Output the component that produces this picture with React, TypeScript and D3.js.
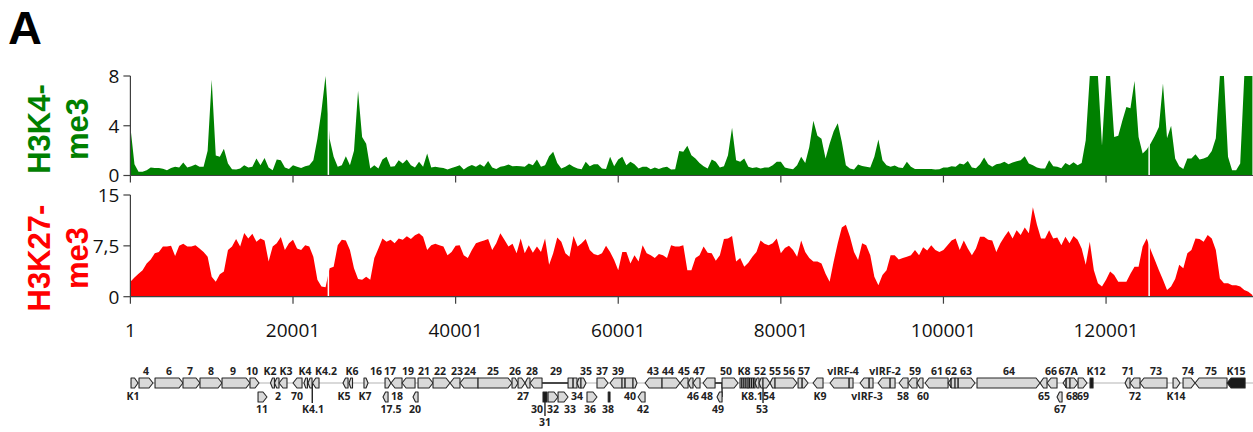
import React from 'react';
import * as d3 from 'd3';

// ChIP coverage along the KSHV genome, 500 bp bins starting at position 1
const BIN_SIZE = 500;
const GENOME_END = 138000;

const h3k4me3 = [
  3.9, 0.9, 0.3, 0.3, 0.43, 0.64, 0.6, 0.6, 0.55, 0.43,
  0.6, 0.7, 0.64, 1.04, 0.64, 0.75, 0.88, 0.7, 0.7, 2.0,
  7.7, 1.6, 1.5, 2.16, 0.96, 0.5, 0.48, 0.56, 0.83, 0.64,
  0.7, 1.36, 0.83, 1.4, 0.64, 0.43, 1.28, 1.23, 0.64, 0.53,
  0.83, 0.7, 0.6, 0.75, 0.83, 1.23, 2.96, 5.2, 8.5, 2.96,
  1.5, 0.7, 0.83, 1.55, 0.83, 2.0, 6.8, 3.1, 2.56, 0.56,
  0.83, 0.56, 1.28, 1.5, 0.7, 0.75, 1.23, 0.96, 1.28,
  0.83, 0.64, 1.1, 0.7, 1.76, 0.64, 0.7, 0.64, 0.61, 0.48,
  0.61, 0.7, 0.83, 0.48, 0.7, 0.85, 0.7, 0.9, 0.7, 1.17,
  0.64, 0.53, 0.7, 0.77, 0.88, 0.75, 0.77, 0.75, 0.7, 0.96,
  0.83, 1.28, 0.7, 0.83, 1.55, 1.9, 1.0, 0.56, 0.7, 0.9,
  0.7, 0.56, 0.5, 1.1, 0.75, 0.9, 0.9, 0.56, 0.53, 1.5,
  0.75, 1.28, 1.5, 0.83, 1.1, 0.9, 0.56, 0.7, 0.7, 0.5,
  0.64, 0.53, 0.64, 0.7, 0.48, 0.5, 1.97, 1.9, 2.4,
  1.63, 1.36, 1.0, 0.75, 0.56, 1.28, 1.1, 0.64, 0.75, 1.63,
  3.84, 1.23, 1.1, 1.36, 0.7, 0.61, 0.67, 0.56, 0.64, 0.64,
  0.83, 1.1, 1.1, 0.64, 0.56, 0.5, 0.83, 1.5, 1.0, 2.3,
  4.4, 3.2, 2.96, 1.36, 2.56, 3.55, 4.2, 2.7, 0.83, 0.56,
  0.48, 0.88, 0.77, 0.7, 0.64, 1.5, 2.9, 1.23, 0.83, 0.7,
  0.8, 0.64, 0.61, 1.1, 0.7, 0.53, 0.53, 0.53, 0.53, 0.53,
  0.48, 0.5, 0.64, 0.64, 0.75, 0.7, 0.96, 0.88, 1.17,
  0.64, 0.59, 0.9, 1.44, 0.9, 0.7, 0.9, 0.96, 1.1, 0.9,
  1.04, 1.15, 1.23, 1.55, 0.96, 0.83, 0.64, 0.56, 0.56, 1.23,
  0.75, 0.7, 0.59, 1.0, 0.83, 1.07, 0.83, 1.0, 2.83, 10,
  10, 8.2, 2.4, 10, 8.2, 3.1, 3.2, 4.4, 5.5, 5.4,
  7.6, 3.1, 1.76, 2.1, 2.6, 3.2, 3.9, 7.4, 3.0, 4.0,
  1.36, 0.75, 0.53, 1.36, 1.36, 1.7, 1.28, 1.36, 1.5, 1.97,
  3.0, 9, 14, 1.5, 0.43, 0.43, 0.96, 10, 10, 10,
];

const h3k27me3 = [
  2.2, 2.85, 3.4, 3.9, 4.9, 5.5, 6.4, 6.6, 7.4, 7.4,
  7.5, 6.0, 7.5, 7.8, 7.4, 7.4, 7.6, 7.1, 6.6, 5.9,
  2.95, 2.2, 3.3, 3.7, 6.9, 7.4, 8.5, 7.4, 9.4, 8.6,
  9.3, 8.1, 8.6, 8.3, 5.2, 7.4, 7.9, 8.8, 6.9, 7.9,
  8.4, 7.1, 6.9, 7.6, 7.4, 5.9, 2.5, 1.5, 1.4, 4.2,
  4.4, 7.6, 8.4, 8.3, 6.9, 4.2, 2.6, 2.5, 2.95, 2.5,
  5.7, 7.1, 8.6, 8.1, 8.4, 7.9, 8.6, 8.4, 8.9,
  8.5, 9.05, 9.35, 8.85, 6.9, 7.6, 7.8, 7.6, 7.4, 6.1,
  6.6, 7.5, 7.6, 6.1, 5.7, 6.9, 7.9, 8.1, 8.3, 8.5,
  6.9, 7.9, 9.35, 8.4, 7.4, 7.8, 6.4, 8.6, 6.4, 7.6,
  6.5, 7.4, 6.6, 8.6, 4.7, 6.4, 8.75, 8.1, 6.4, 5.9,
  8.95, 7.4, 7.9, 8.5, 6.9, 6.3, 6.1, 6.4, 7.5, 6.6,
  5.4, 3.9, 6.6, 6.6, 4.9, 6.1, 5.2, 7.6, 6.4, 6.1,
  5.7, 6.3, 6.1, 5.7, 7.6, 7.4, 7.4, 7.6, 3.9,
  3.9, 5.7, 6.1, 7.4, 6.5, 6.4, 5.3, 6.1, 8.5, 8.6,
  8.95, 5.2, 5.7, 4.4, 5.0, 5.9, 6.6, 8.3, 7.8, 7.6,
  7.9, 8.6, 6.4, 7.2, 7.5, 6.9, 5.9, 8.3, 6.6, 5.7,
  5.2, 5.2, 4.9, 3.4, 2.2, 5.2, 7.9, 10.2, 10.6, 8.85,
  6.6, 5.4, 7.9, 7.6, 6.1, 2.95, 1.7, 3.2, 3.9, 6.1,
  6.1, 5.5, 5.7, 5.9, 6.1, 6.9, 6.1, 7.3, 6.8, 7.6,
  6.9, 6.6, 6.9, 7.6, 8.3, 8.6, 6.9, 8.3, 7.1,
  6.1, 7.1, 8.85, 8.85, 8.4, 8.3, 6.6, 7.9, 8.85, 9.7,
  8.6, 9.8, 9.1, 10.2, 9.35, 13.2, 10.6, 8.6, 8.6, 9.8,
  8.6, 8.75, 7.6, 8.85, 7.9, 8.95, 8.4, 7.1, 4.7, 8.1,
  3.9, 2.0, 1.5, 2.5, 3.7, 3.2, 2.2, 2.2, 2.2, 3.4,
  4.4, 4.4, 7.4, 8.6, 6.9, 5.4, 3.9, 2.5, 1.0, 1.5,
  2.6, 4.7, 4.2, 6.4, 6.9, 8.6, 8.5, 8.1, 9.1, 8.6,
  6.9, 2.7, 2.0, 2.0, 1.7, 1.7, 1.5, 1.0, 0.74, 0.25,
];

// positions with no coverage (thin white gaps through both tracks)
const gapPositions = [24350, 125300];

const xTicks = [1, 20001, 40001, 60001, 80001, 100001, 120001];
const k4Ticks = [0, 4, 8];
const k4TickLabels = ['0', '4', '8'];
const k27Ticks = [0, 7.5, 15];
const k27TickLabels = ['0', '7,5', '15'];

// ORFs: [name, start, end, strand (1 fwd, -1 rev, 0 box), track, kind]
type Gene = [string, number, number, number, number, string?];
const genes: Gene[] = [
  ['K1', 80, 940, 1, 0], ['4', 1060, 2780, 1, 0], ['6', 3030, 6470, 1, 0],
  ['7', 6470, 8560, 1, 0], ['8', 8560, 11270, 1, 0], ['9', 11270, 14710, 1, 0],
  ['10', 14710, 15820, 1, 0], ['11', 15700, 16800, 1, 1],
  ['K2', 17230, 17720, -1, 0], ['2', 17720, 18280, -1, 0], ['K3', 18280, 19260, -1, 0],
  ['70', 20000, 21110, -1, 0], ['K4', 21350, 21780, -1, 0], ['K4.1', 21850, 22340, -1, 0],
  ['K4.2', 22400, 23200, -1, 0], ['K5', 26150, 26770, -1, 0], ['K6', 26890, 27320, -1, 0],
  ['K7', 28730, 29230, 1, 0], ['16', 31320, 32050, 1, 0], ['17', 32050, 33410, -1, 0],
  ['17.5', 31070, 31690, -1, 1], ['19', 33410, 35010, -1, 0], ['20', 34760, 35380, -1, 1],
  ['21', 35380, 37220, 1, 0], ['22', 37220, 39310, 1, 0], ['23', 39310, 40540, -1, 0],
  ['24', 40540, 42760, -1, 0], ['25', 42760, 46940, 1, 0], ['26', 46940, 47680, 1, 0],
  ['27', 47680, 48540, 1, 0], ['28', 48540, 49150, -1, 0], ['29a', 49150, 50630, -1, 0],
  ['29b', 53830, 54930, 0, 0], ['30', 50750, 51240, 0, 1, 'dark'],
  ['32', 51370, 52600, 1, 1], ['33', 52600, 53830, 1, 1], ['34', 54930, 55420, -1, 0],
  ['35', 55420, 56040, 1, 0], ['36', 56160, 57390, 1, 1], ['37', 57390, 58750, 1, 0],
  ['38', 58770, 58990, 0, 1, 'dark'], ['39', 58990, 60470, -1, 0], ['40', 60470, 61820, 0, 0],
  ['41', 61820, 62310, 1, 0], ['42', 62440, 63300, -1, 1], ['43', 63300, 65390, -1, 0],
  ['44', 65390, 67600, 1, 0], ['45', 67600, 68590, -1, 0], ['46', 68590, 69200, -1, 0],
  ['47', 69200, 70060, -1, 0], ['48', 70430, 71910, -1, 0], ['49', 72150, 72770, -1, 1],
  ['50', 72770, 74740, 1, 0], ['K8', 74980, 75970, 0, 0], ['K8.1', 75970, 76830, 0, 0],
  ['52', 76830, 77320, -1, 0], ['53', 77320, 77810, -1, 0], ['54', 77810, 78670, 1, 0],
  ['55', 78670, 79290, -1, 0], ['56', 79290, 81990, 1, 0], ['57', 82120, 83350, 1, 0],
  ['K9', 83960, 85190, -1, 0], ['vIRF-4', 86050, 88880, -1, 0], ['vIRF-3', 89740, 91340, -1, 0],
  ['vIRF-2', 91960, 94050, -1, 0], ['58', 94540, 95650, -1, 0], ['59', 95650, 96750, -1, 0],
  ['60', 96750, 97490, -1, 0], ['61', 97740, 100570, -1, 0], ['62', 100570, 101430, -1, 0],
  ['63', 101430, 103890, 1, 0], ['64', 104130, 111880, 1, 0], ['65', 111880, 112740, -1, 0],
  ['66', 112740, 113970, -1, 0], ['67', 113970, 114590, -1, 1], ['67A', 114710, 115570, -1, 0],
  ['68', 115570, 116560, 1, 0], ['69', 116560, 117660, 1, 0], ['K12', 118030, 118400, 0, 0, 'dark'],
  ['71', 122340, 122950, -1, 0], ['72', 122950, 124180, -1, 0], ['73', 124180, 127500, -1, 0],
  ['K14', 128240, 129100, 1, 0], ['74', 129470, 130950, 1, 0], ['75', 130950, 134880, -1, 0],
  ['K15', 134880, 137100, -1, 0, 'dark'],
];

// exon borders / internal marks drawn inside the ORF boxes
const geneMarks = [54440, 60830, 75200, 75450, 75700, 76150, 76400, 76650, 82610, 88390,
  90850, 93430, 100930, 101800, 115080];
// spliced / linking lines on the backbone
const introns = [[50630, 53830], [71910, 72770]];
// vertical leader lines: [position, from level, to level]
const connectors: [number, string, string][] = [
  [22370, 'g0', 'b2'], [77810, 'g0', 'b2'], [50990, 'g1', 'b3'], [72770, 'g0', 'g1'],
];

// gene labels: [text, position, row]
const geneLabels: [string, number, string][] = [
  ['4', 1920, 'a'], ['6', 4750, 'a'], ['7', 7330, 'a'], ['8', 9910, 'a'], ['9', 12620, 'a'],
  ['10', 14960, 'a'], ['K2', 17170, 'a'], ['K3', 19140, 'a'], ['K4', 21480, 'a'],
  ['K4.2', 24060, 'a'], ['K6', 27260, 'a'], ['16', 30210, 'a'], ['17', 31930, 'a'],
  ['19', 34150, 'a'], ['21', 36110, 'a'], ['22', 38080, 'a'], ['23', 40170, 'a'],
  ['24', 41770, 'a'], ['25', 44600, 'a'], ['26', 47310, 'a'], ['28', 49400, 'a'],
  ['29', 52350, 'a'], ['35', 56040, 'a'], ['37', 58010, 'a'], ['39', 59980, 'a'],
  ['43', 64280, 'a'], ['44', 66130, 'a'], ['45', 68090, 'a'], ['47', 69940, 'a'],
  ['50', 73260, 'a'], ['K8', 75470, 'a'], ['52', 77440, 'a'], ['55', 79290, 'a'],
  ['56', 81010, 'a'], ['57', 82850, 'a'], ['vIRF-4', 87650, 'a'], ['vIRF-2', 92820, 'a'],
  ['59', 96510, 'a'], ['61', 99210, 'a'], ['62', 100930, 'a'], ['63', 102780, 'a'],
  ['64', 108070, 'a'], ['66', 113230, 'a'], ['67A', 115330, 'a'], ['K12', 118770, 'a'],
  ['71', 122710, 'a'], ['73', 126150, 'a'], ['74', 130090, 'a'], ['75', 132910, 'a'],
  ['K15', 135990, 'a'],
  ['K1', 320, 'b1'], ['2', 18160, 'b1'], ['70', 20490, 'b1'], ['K5', 26270, 'b1'],
  ['K7', 28860, 'b1'], ['18', 32790, 'b1'], ['27', 48290, 'b1'], ['34', 54930, 'b1'],
  ['40', 61450, 'b1'], ['46', 69200, 'b1'], ['48', 70920, 'b1'], ['K8.1', 76460, 'b1'],
  ['54', 78550, 'b1'], ['K9', 84820, 'b1'], ['vIRF-3', 90600, 'b1'], ['58', 95030, 'b1'],
  ['60', 97490, 'b1'], ['65', 112370, 'b1'], ['68', 115820, 'b1'], ['69', 117170, 'b1'],
  ['72', 123570, 'b1'], ['K14', 128610, 'b1'],
  ['11', 16190, 'b2'], ['K4.1', 22460, 'b2'], ['17.5', 32050, 'b2'], ['20', 35010, 'b2'],
  ['30', 50010, 'b2'], ['32', 51980, 'b2'], ['33', 54070, 'b2'], ['36', 56530, 'b2'],
  ['38', 58750, 'b2'], ['42', 63050, 'b2'], ['49', 72280, 'b2'], ['53', 77690, 'b2'],
  ['67', 114340, 'b2'],
  ['31', 51000, 'b3'],
];

const W = 1253;
const H = 432;
const GREEN = '#008000';
const RED = '#ff0000';
const AXIS = '#404040';
const TICK_FONT = '"Open Sans", "DejaVu Sans", sans-serif';
const BOLD_FONT = '"Liberation Sans", Arial, sans-serif';

const levelY: Record<string, number> = { g0: 383, g1: 397, a: 371, b1: 396, b2: 409, b3: 422 };

function genePath(x0: number, x1: number, strand: number, yc: number, h: number) {
  const tip = Math.min(4, (x1 - x0) * 0.5);
  const t = yc - h / 2, b = yc + h / 2;
  if (strand === 1) return `M${x0},${t}H${x1 - tip}L${x1},${yc}L${x1 - tip},${b}H${x0}Z`;
  if (strand === -1) return `M${x1},${t}H${x0 + tip}L${x0},${yc}L${x0 + tip},${b}H${x1}Z`;
  return `M${x0},${t}H${x1}V${b}H${x0}Z`;
}

export default function App() {
  const x = d3.scaleLinear().domain([1, GENOME_END]).range([130.4, 1252.4]);
  const yTop = d3.scaleLinear().domain([0, 8]).range([175.5, 76]).clamp(true);
  const yBot = d3.scaleLinear().domain([0, 15]).range([296.7, 195]).clamp(true);
  const pos = (i: number) => 1 + i * BIN_SIZE;

  const areaTop = d3.area<number>().x((_, i) => x(pos(i))).y0(yTop(0)).y1(d => yTop(d));
  const areaBot = d3.area<number>().x((_, i) => x(pos(i))).y0(yBot(0)).y1(d => yBot(d));

  const x0 = x(1);
  const xEnd = W;

  const renderXAxis = (y0: number) => (
    <g>
      <line x1={x0} x2={xEnd} y1={y0} y2={y0} stroke={AXIS} strokeWidth={1.2} />
      {xTicks.map(t => (
        <line key={t} x1={x(t)} x2={x(t)} y1={y0} y2={y0 + 7} stroke={AXIS} strokeWidth={1.2} />
      ))}
    </g>
  );

  const renderYAxis = (scale: d3.ScaleLinear<number, number>, ticks: number[], labels: string[]) => (
    <g>
      <line x1={x0} x2={x0} y1={scale(ticks[ticks.length - 1])} y2={scale(0)} stroke={AXIS} strokeWidth={1.2} />
      {ticks.map((t, i) => (
        <g key={t}>
          <line x1={x0 - 7} x2={x0} y1={scale(t)} y2={scale(t)} stroke={AXIS} strokeWidth={1.2} />
          <text x={x0 - 11} y={scale(t)} dy="0.36em" textAnchor="end" fontFamily={TICK_FONT}
            fontSize={19} fill="#111">{labels[i]}</text>
        </g>
      ))}
    </g>
  );

  return (
    <div style={{ position: 'absolute', left: 0, top: 0 }}>
      <svg width={W} height={H} style={{ display: 'block', background: '#fff' }}>
        <text x={8} y={44} fontFamily={BOLD_FONT} fontWeight="bold" fontSize={47} fill="#000">A</text>

        {/* track titles */}
        <g fontFamily={BOLD_FONT} fontWeight="bold" fontSize={31} textAnchor="middle">
          <text transform="translate(50,129) rotate(-90)" fill={GREEN}>H3K4-</text>
          <text transform="translate(88,129) rotate(-90)" fill={GREEN}>me3</text>
          <text transform="translate(50,258) rotate(-90)" fill={RED}>H3K27-</text>
          <text transform="translate(88,258) rotate(-90)" fill={RED}>me3</text>
        </g>

        {/* coverage */}
        <path d={areaTop(h3k4me3) ?? ''} fill={GREEN} />
        <path d={areaBot(h3k27me3) ?? ''} fill={RED} />
        {gapPositions.map(g => (
          <g key={g}>
            <line x1={x(g)} x2={x(g)} y1={yTop(8)} y2={yTop(0) - 0.6} stroke="#fff" strokeWidth={1.5} />
            <line x1={x(g)} x2={x(g)} y1={yBot(15)} y2={yBot(0) - 0.6} stroke="#fff" strokeWidth={1.5} />
          </g>
        ))}

        {renderYAxis(yTop, k4Ticks, k4TickLabels)}
        {renderXAxis(yTop(0))}
        {renderYAxis(yBot, k27Ticks, k27TickLabels)}
        {renderXAxis(yBot(0))}

        {xTicks.map(t => (
          <text key={t} x={x(t)} y={337} textAnchor="middle" fontFamily={TICK_FONT} fontSize={19} fill="#111">{t}</text>
        ))}

        {/* genome map */}
        <line x1={x(1)} x2={xEnd} y1={levelY.g0} y2={levelY.g0} stroke="#d9d9d9" strokeWidth={2} />
        {introns.map(([a, b]) => (
          <line key={a} x1={x(a)} x2={x(b)} y1={levelY.g0} y2={levelY.g0} stroke="#222" strokeWidth={1.6} />
        ))}
        {connectors.map(([p, from, to]) => (
          <line key={p} x1={x(p)} x2={x(p)} y1={levelY[from]} y2={to.startsWith('b') ? levelY[to] - 6 : levelY[to]}
            stroke="#222" strokeWidth={1.4} />
        ))}
        {genes.map(([name, s, e, strand, track, kind]) => (
          <path key={name} d={genePath(x(s), x(e), strand, track === 0 ? levelY.g0 : levelY.g1, 10)}
            fill={kind === 'dark' ? '#1a1a1a' : '#d9d9d9'} stroke="#262626" strokeWidth={1.1}
            strokeLinejoin="round" />
        ))}
        {geneMarks.map(m => (
          <line key={m} x1={x(m)} x2={x(m)} y1={levelY.g0 - 5} y2={levelY.g0 + 5} stroke="#1a1a1a" strokeWidth={1.4} />
        ))}
        <g fontFamily={TICK_FONT} fontWeight="bold" fontSize={10.5} fill="#222" textAnchor="middle">
          {geneLabels.map(([t, p, row]) => (
            <text key={t + row} x={x(p)} y={levelY[row]} dy="0.36em">{t}</text>
          ))}
        </g>
      </svg>
    </div>
  );
}
